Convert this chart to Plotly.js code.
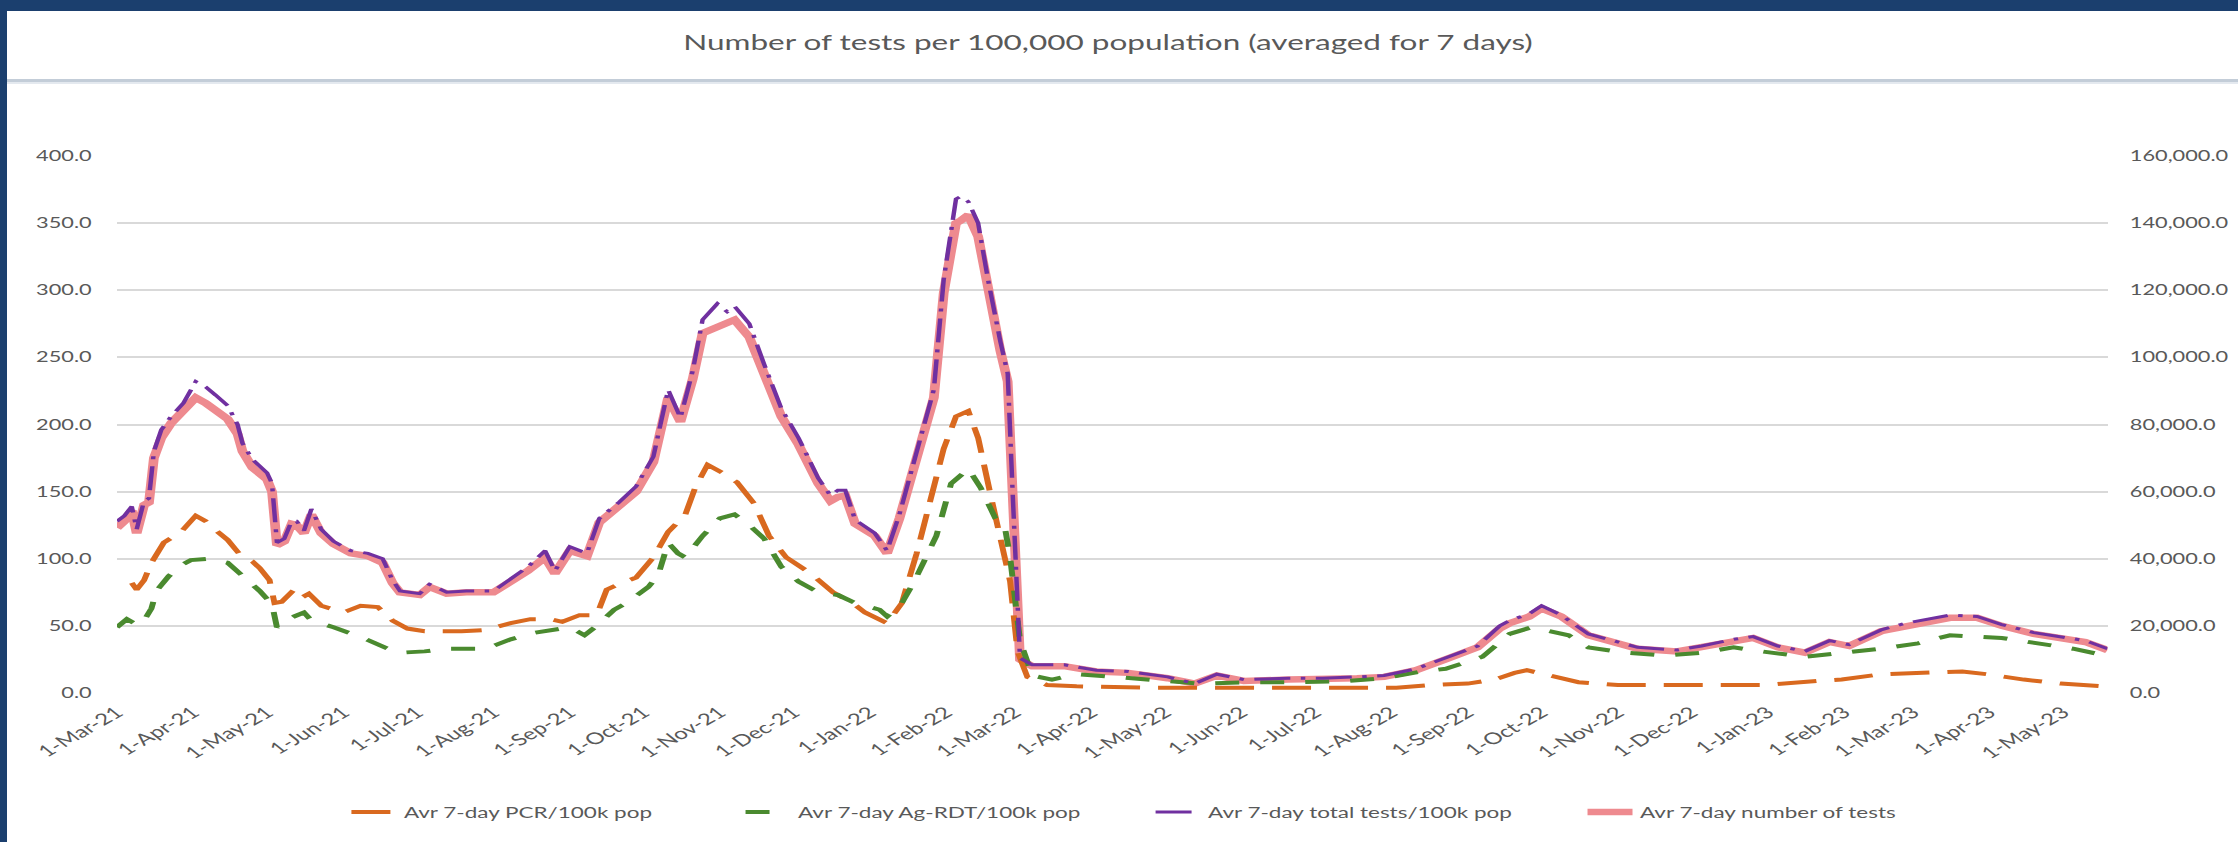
<!DOCTYPE html>
<html>
<head>
<meta charset="utf-8">
<script src="https://cdn.plot.ly/plotly-3.0.1.min.js"></script>
<style>
html,body{margin:0;padding:0;background:#fff;overflow:hidden;width:2238px;height:842px;}
#wrap{position:relative;width:2238px;height:842px;overflow:hidden;background:#fff;}
#chart{position:absolute;left:0;top:0;width:1492px;height:842px;transform:scaleX(1.5);transform-origin:0 0;}
.bar{position:absolute;background:#1B3F6E;}
#sep{position:absolute;left:0;width:2238px;top:79px;height:3px;background:#C3CDD8;}
#sep2{position:absolute;left:0;width:2238px;top:82px;height:2px;background:#E4E9EF;}
</style>
</head>
<body>
<div id="wrap">
  <div id="chart"></div>
  <div id="sep"></div><div id="sep2"></div>
  <div class="bar" style="left:0;top:0;width:2238px;height:11px"></div>
  <div class="bar" style="left:0;top:0;width:7px;height:842px"></div>
</div>
<script>
// ---- Data ----
const chartTitle = 'Number of tests per 100,000 population (averaged for 7 days)';

const monthTicks = ['2021-03-01','2021-04-01','2021-05-01','2021-06-01','2021-07-01','2021-08-01','2021-09-01','2021-10-01','2021-11-01','2021-12-01','2022-01-01','2022-02-01','2022-03-01','2022-04-01','2022-05-01','2022-06-01','2022-07-01','2022-08-01','2022-09-01','2022-10-01','2022-11-01','2022-12-01','2023-01-01','2023-02-01','2023-03-01','2023-04-01','2023-05-01'];
const monthLabels = ['1-Mar-21','1-Apr-21','1-May-21','1-Jun-21','1-Jul-21','1-Aug-21','1-Sep-21','1-Oct-21','1-Nov-21','1-Dec-21','1-Jan-22','1-Feb-22','1-Mar-22','1-Apr-22','1-May-22','1-Jun-22','1-Jul-22','1-Aug-22','1-Sep-22','1-Oct-22','1-Nov-22','1-Dec-22','1-Jan-23','1-Feb-23','1-Mar-23','1-Apr-23','1-May-23'];

// total tests / 100k and number of tests share the same dates
const totalDates = ['2021-03-01','2021-03-04','2021-03-07','2021-03-09','2021-03-12','2021-03-14','2021-03-16','2021-03-19','2021-03-23','2021-03-28',
'2021-04-02','2021-04-06','2021-04-10','2021-04-15','2021-04-19','2021-04-21','2021-04-25','2021-05-01','2021-05-03','2021-05-05',
'2021-05-08','2021-05-11','2021-05-13','2021-05-16','2021-05-19','2021-05-23','2021-05-28','2021-06-04','2021-06-11','2021-06-17',
'2021-06-21','2021-06-24','2021-07-02','2021-07-06','2021-07-13','2021-07-21','2021-08-01','2021-08-08','2021-08-15','2021-08-22',
'2021-08-26','2021-09-01','2021-09-08','2021-09-13','2021-09-21','2021-09-28','2021-10-05','2021-10-11','2021-10-16','2021-10-21',
'2021-10-25','2021-10-31','2021-11-04','2021-11-07','2021-11-13','2021-11-19','2021-11-26','2021-12-03','2021-12-11','2021-12-16',
'2021-12-19','2021-12-22','2021-12-26','2022-01-03','2022-01-08','2022-01-13','2022-01-19','2022-01-27','2022-01-31','2022-02-05',
'2022-02-07','2022-02-10','2022-02-14','2022-02-18','2022-02-23','2022-02-26','2022-02-28','2022-03-03','2022-03-08','2022-03-21',
'2022-04-03','2022-04-16','2022-05-02','2022-05-13','2022-05-22','2022-06-02','2022-06-20','2022-07-04','2022-07-18','2022-07-29',
'2022-08-11','2022-08-23','2022-09-05','2022-09-14','2022-09-18','2022-09-26','2022-10-01','2022-10-09','2022-10-20','2022-10-30',
'2022-11-09','2022-11-25','2022-12-05','2022-12-18','2022-12-26','2023-01-05','2023-01-16','2023-01-26','2023-02-03','2023-02-16',
'2023-02-26','2023-03-16','2023-03-27','2023-04-06','2023-04-19','2023-05-03','2023-05-10','2023-05-19'];

const totalPer100k = [128,132,139,122,143,145,180,196,206,216,
232,228,222,214,200,186,174,164,156,112,
115,128,128,121,137,122,113,106,104,100,
84,76,74,81,75,76,76,85,94,106,
91,109,104,130,142,154,176,226,205,240,
278,290,284,288,275,245,212,190,160,147,
151,151,129,119,106,133,173,226,308,368,
370,366,350,308,262,238,150,26,21,21,
17,16,12,7,14,10,11,11,12,13,
18,26,35,50,54,59,65,58,44,39,
34,32,35,40,42,35,31,39,36,47,
52,58,57,51,45,41,39,33];

const numberOfTests = [49200,51200,54400,47600,56000,56800,70000,76000,80400,84000,
88000,86400,84400,81600,77200,72000,67200,63600,60000,44000,
45200,50400,50000,47600,53200,47600,44400,41600,40800,38800,
32800,30000,29200,31600,29600,30000,30000,33200,36400,40400,
35600,42400,40800,50800,55600,60000,68800,88000,80800,93600,
107200,108800,110000,111200,106000,94800,82400,74000,62400,57200,
58400,58800,50400,46800,41600,52000,67200,88000,119200,140000,
140800,142400,136000,120000,102000,92800,58000,10000,8000,8000,
6400,6000,4400,2800,5200,3600,4000,4000,4400,4800,
6800,10000,13600,19200,20800,22800,25200,22800,17200,15200,
13200,12400,13600,15600,16400,13600,12000,15200,14000,18400,
20000,22400,22400,20000,17600,16000,15200,12800];

const pcrDates = ['2021-03-07','2021-03-09','2021-03-12','2021-03-15','2021-03-20','2021-03-27','2021-04-02','2021-04-06','2021-04-09','2021-04-15',
'2021-04-20','2021-04-25','2021-04-28','2021-05-02','2021-05-04','2021-05-07','2021-05-12','2021-05-15','2021-05-18','2021-05-23',
'2021-06-01','2021-06-08','2021-06-15','2021-06-21','2021-06-27','2021-07-04','2021-07-19','2021-07-29','2021-08-08','2021-08-16',
'2021-08-24','2021-08-29','2021-09-05','2021-09-12','2021-09-16','2021-09-22','2021-09-28','2021-10-05','2021-10-11','2021-10-15',
'2021-10-18','2021-10-22','2021-10-27','2021-11-02','2021-11-08','2021-11-15','2021-11-21','2021-11-28','2021-12-08','2021-12-17',
'2021-12-25','2021-12-30','2022-01-08','2022-01-14','2022-01-20','2022-01-31','2022-02-05','2022-02-10','2022-02-14','2022-02-19',
'2022-02-23','2022-02-27','2022-03-02','2022-03-06','2022-03-14','2022-03-26','2022-04-25','2022-06-14','2022-08-03','2022-08-18',
'2022-09-01','2022-09-12','2022-09-20','2022-09-25','2022-10-07','2022-10-16','2022-11-01','2022-12-01','2022-12-31','2023-01-21',
'2023-01-31','2023-02-16','2023-03-03','2023-03-21','2023-03-31','2023-04-15','2023-04-30','2023-05-18'];
const pcrPer100k = [82,77,84,97,112,120,132,128,123,114,
103,98,93,84,67,68,77,71,74,65,
60,65,64,54,48,46,46,47,52,55,
55,53,58,58,77,82,86,101,120,127,
133,153,170,164,157,141,117,101,89,75,
67,60,52,67,104,182,206,210,190,148,
117,83,31,12,6,5,4,4,4,6,
7,10,15,17,12,8,6,6,6,9,
10,14,15,16,14,10,7,5];

const agDates = ['2021-03-01','2021-03-05','2021-03-08','2021-03-11','2021-03-15','2021-03-17','2021-03-22','2021-03-27','2021-03-31','2021-04-07',
'2021-04-15','2021-04-20','2021-04-28','2021-05-03','2021-05-05','2021-05-07','2021-05-12','2021-05-16','2021-05-19','2021-05-28',
'2021-06-09','2021-06-19','2021-06-24','2021-07-04','2021-07-14','2021-07-29','2021-08-08','2021-08-18','2021-08-26','2021-09-01',
'2021-09-07','2021-09-12','2021-09-19','2021-09-24','2021-10-03','2021-10-07','2021-10-11','2021-10-15','2021-10-18','2021-10-25',
'2021-11-01','2021-11-07','2021-11-13','2021-11-19','2021-11-26','2021-12-03','2021-12-11','2021-12-19','2021-12-26','2022-01-05',
'2022-01-08','2022-01-14','2022-01-19','2022-01-28','2022-02-03','2022-02-10','2022-02-15','2022-02-21','2022-02-25','2022-02-27',
'2022-03-03','2022-03-08','2022-03-16','2022-03-26','2022-04-10','2022-04-30','2022-05-15','2022-06-04','2022-06-24','2022-07-14',
'2022-07-29','2022-08-13','2022-08-23','2022-09-07','2022-09-18','2022-09-27','2022-10-12','2022-10-20','2022-11-04','2022-11-20',
'2022-12-05','2022-12-18','2022-12-25','2023-01-16','2023-01-31','2023-02-16','2023-03-03','2023-03-16','2023-04-06','2023-04-20',
'2023-05-05','2023-05-18'];
const agPer100k = [49,55,52,51,63,76,87,95,99,100,
97,89,76,66,49,52,57,60,54,49,
41,33,30,31,33,33,40,45,47,49,
43,50,62,67,79,88,112,104,101,117,
130,133,125,115,94,83,75,73,67,62,
57,67,83,117,156,167,153,130,122,101,
39,13,10,14,12,9,7,8,8,9,
11,16,18,27,44,49,43,34,30,28,
30,34,32,27,30,33,37,43,41,37,
33,28];

const seriesNames = ['Avr 7-day PCR/100k pop','Avr 7-day Ag-RDT/100k pop','Avr 7-day total tests/100k pop','Avr 7-day number of tests'];

// ---- Chart ----
const FONT = 'Lato, "Open Sans", "DejaVu Sans", sans-serif';
const TXT = '#595959';

const traces = [
  {x: totalDates, y: numberOfTests, name: seriesNames[3], type: 'scatter', mode: 'lines', yaxis: 'y',
   line: {color: '#EE8A8F', width: 6.5}, legend: 'legend4', hoverinfo: 'skip'},
  {x: pcrDates, y: pcrPer100k, name: seriesNames[0], type: 'scatter', mode: 'lines', yaxis: 'y2',
   line: {color: '#D9691F', width: 4, dash: '26px,12px'}, legend: 'legend', hoverinfo: 'skip'},
  {x: agDates, y: agPer100k, name: seriesNames[1], type: 'scatter', mode: 'lines', yaxis: 'y2',
   line: {color: '#4A8A2F', width: 4, dash: '16px,14px'}, legend: 'legend2', hoverinfo: 'skip'},
  {x: totalDates, y: totalPer100k, name: seriesNames[2], type: 'scatter', mode: 'lines', yaxis: 'y2',
   line: {color: '#7030A0', width: 3, dash: '24px,7px,3px,7px'}, legend: 'legend3', hoverinfo: 'skip'}
];

const legendBase = {orientation: 'h', y: -0.222, yanchor: 'middle', xanchor: 'left',
  bgcolor: 'rgba(0,0,0,0)', font: {family: FONT, size: 15, color: TXT}};

const layout = {
  width: 1492, height: 842,
  paper_bgcolor: '#ffffff', plot_bgcolor: '#ffffff',
  margin: {l: 78, r: 87, t: 156, b: 149},
  showlegend: true,
  title: {text: chartTitle, font: {family: FONT, size: 21, color: TXT},
          x: 0.4951, xref: 'container', xanchor: 'center', y: 0.949, yref: 'container', yanchor: 'middle'},
  xaxis: {type: 'date', range: ['2021-03-01', '2023-05-19'], tickvals: monthTicks, ticktext: monthLabels,
          tickangle: -40, showgrid: false, zeroline: false, showline: false,
          ticks: 'outside', ticklen: 3, tickcolor: 'rgba(0,0,0,0)',
          tickfont: {family: FONT, size: 16, color: TXT}},
  yaxis: {side: 'right', range: [0, 160000], dtick: 20000, tickformat: ',.1f',
          showgrid: true, gridcolor: '#D9D9D9', gridwidth: 2, zeroline: false, showline: false,
          ticks: 'outside', ticklen: 11, tickcolor: 'rgba(0,0,0,0)',
          tickfont: {family: FONT, size: 14.5, color: TXT}},
  yaxis2: {side: 'left', overlaying: 'y', range: [0, 400], dtick: 50, tickformat: '.1f',
           showgrid: false, zeroline: false, showline: false,
           ticks: 'outside', ticklen: 13, tickcolor: 'rgba(0,0,0,0)',
           tickfont: {family: FONT, size: 14.5, color: TXT}},
  legend: Object.assign({}, legendBase, {x: 0.114}),
  legend2: Object.assign({}, legendBase, {x: 0.312}),
  legend3: Object.assign({}, legendBase, {x: 0.518}),
  legend4: Object.assign({}, legendBase, {x: 0.735})
};

Plotly.newPlot('chart', traces, layout, {displayModeBar: false, staticPlot: true});
</script>
</body>
</html>
